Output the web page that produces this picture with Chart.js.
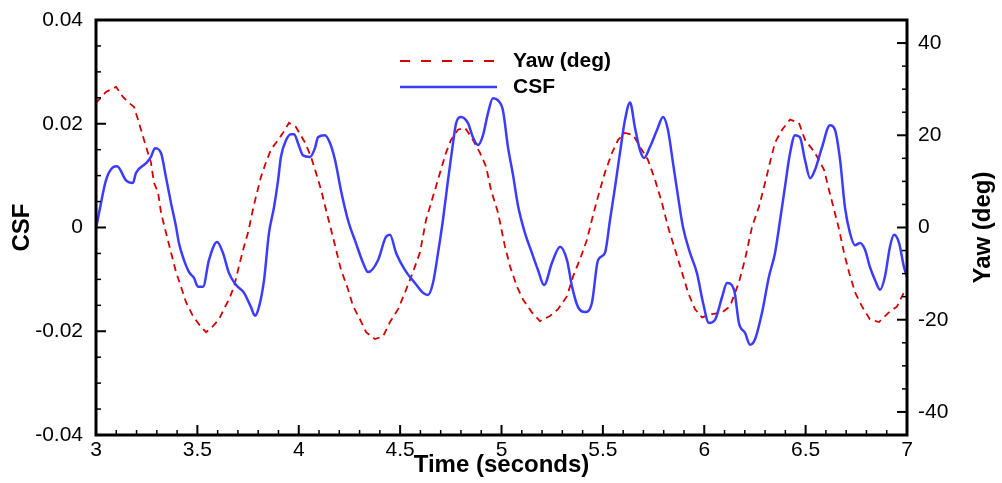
<!DOCTYPE html>
<html>
<head>
<meta charset="utf-8">
<script src="https://cdn.jsdelivr.net/npm/chart.js@4/dist/chart.umd.min.js"></script>
<style>
  html, body { margin: 0; padding: 0; background: #fff; }
  #wrap { width: 1002px; height: 483px; }
</style>
</head>
<body>
<div id="wrap"><canvas id="chart" width="1002" height="483"></canvas></div>
<script>
// CSF (left axis)
const csfTime = [3.000,3.015,3.049,3.084,3.104,3.148,3.182,3.197,3.247,3.271,
  3.291,3.321,3.345,3.370,3.395,3.409,3.434,3.459,3.483,3.503,
  3.528,3.557,3.597,3.626,3.656,3.691,3.730,3.764,3.784,3.804,
  3.829,3.853,3.878,3.898,3.912,3.937,3.962,3.977,3.996,4.021,
  4.055,4.080,4.095,4.129,4.154,4.179,4.208,4.243,4.282,4.317,
  4.342,4.391,4.430,4.450,4.480,4.524,4.573,4.613,4.637,4.662,
  4.687,4.711,4.736,4.761,4.776,4.800,4.835,4.859,4.884,4.909,
  4.933,4.958,4.983,5.007,5.032,5.057,5.081,5.116,5.150,5.180,
  5.210,5.249,5.289,5.323,5.348,5.377,5.412,5.446,5.476,5.510,
  5.535,5.560,5.584,5.609,5.634,5.658,5.683,5.703,5.732,5.767,
  5.797,5.821,5.846,5.871,5.895,5.930,5.964,5.994,6.023,6.053,
  6.088,6.112,6.147,6.171,6.201,6.226,6.250,6.285,6.319,6.349,
  6.374,6.398,6.423,6.448,6.472,6.497,6.522,6.546,6.581,6.620,
  6.645,6.670,6.694,6.719,6.744,6.768,6.793,6.817,6.842,6.867,
  6.891,6.916,6.936,6.961,6.985,7.000];
const csfVals = [-0.0002,0.0028,0.0091,0.0116,0.0118,0.0091,0.0086,0.0105,0.0124,0.0136,
  0.0153,0.0143,0.0097,0.0047,0.0001,-0.0030,-0.0063,-0.0086,-0.0097,-0.0114,
  -0.0114,-0.0063,-0.0028,-0.0049,-0.0088,-0.0111,-0.0126,-0.0153,-0.0170,-0.0153,
  -0.0101,-0.0011,0.0039,0.0091,0.0136,0.0168,0.0180,0.0180,0.0163,0.0139,
  0.0136,0.0153,0.0174,0.0178,0.0163,0.0130,0.0072,0.0014,-0.0030,-0.0068,
  -0.0086,-0.0063,-0.0018,-0.0014,-0.0049,-0.0082,-0.0107,-0.0126,-0.0130,-0.0107,
  -0.0049,0.0014,0.0091,0.0163,0.0201,0.0213,0.0201,0.0174,0.0159,0.0178,
  0.0220,0.0249,0.0245,0.0226,0.0155,0.0101,0.0043,-0.0011,-0.0049,-0.0082,
  -0.0111,-0.0068,-0.0037,-0.0063,-0.0114,-0.0153,-0.0163,-0.0145,-0.0063,-0.0049,
  0.0014,0.0078,0.0143,0.0207,0.0241,0.0193,0.0149,0.0134,0.0155,0.0188,
  0.0213,0.0188,0.0124,0.0059,0.0001,-0.0049,-0.0088,-0.0145,-0.0184,-0.0178,
  -0.0134,-0.0107,-0.0120,-0.0184,-0.0203,-0.0226,-0.0216,-0.0164,-0.0095,-0.0049,
  0.0014,0.0078,0.0143,0.0178,0.0174,0.0130,0.0095,0.0111,0.0155,0.0197,
  0.0188,0.0130,0.0039,-0.0011,-0.0034,-0.0030,-0.0043,-0.0076,-0.0101,-0.0120,
  -0.0095,-0.0037,-0.0014,-0.0030,-0.0076,-0.0095];

// Yaw in degrees (right axis)
const yawTime = [3.000,3.049,3.099,3.133,3.163,3.187,3.207,3.222,3.247,3.271,
  3.286,3.306,3.321,3.345,3.370,3.395,3.419,3.444,3.478,3.508,
  3.543,3.577,3.607,3.631,3.656,3.681,3.705,3.730,3.750,3.774,
  3.789,3.814,3.838,3.863,3.898,3.922,3.952,3.986,4.031,4.060,
  4.085,4.110,4.134,4.159,4.184,4.208,4.243,4.268,4.302,4.332,
  4.376,4.416,4.450,4.490,4.524,4.563,4.598,4.628,4.662,4.697,
  4.726,4.751,4.785,4.820,4.850,4.894,4.924,4.948,4.983,5.017,
  5.042,5.076,5.106,5.150,5.190,5.239,5.279,5.323,5.353,5.387,
  5.422,5.446,5.476,5.510,5.545,5.575,5.609,5.649,5.683,5.722,
  5.757,5.791,5.821,5.856,5.890,5.920,5.954,5.989,6.038,6.088,
  6.127,6.171,6.201,6.236,6.270,6.300,6.324,6.349,6.384,6.423,
  6.467,6.497,6.546,6.591,6.615,6.640,6.665,6.689,6.714,6.744,
  6.778,6.817,6.862,6.911,6.951,6.985,7.000];
const yawVals = [27.0,29.4,30.5,28.3,27.0,26.2,23.4,21.2,17.5,14.1,
  9.7,7.6,3.2,-1.1,-5.4,-9.7,-12.8,-16.2,-19.2,-21.0,
  -22.7,-21.4,-19.9,-17.7,-15.6,-12.8,-8.4,-4.1,-1.1,3.9,
  6.7,11.0,14.1,16.9,19.0,20.5,22.7,21.8,18.4,15.4,
  11.9,8.2,3.9,-0.4,-4.8,-9.1,-13.4,-17.1,-19.9,-22.7,
  -24.2,-23.6,-20.5,-17.7,-14.1,-9.7,-5.4,1.7,6.7,11.9,
  16.2,19.0,21.2,21.6,19.7,16.2,13.2,8.2,3.2,-4.1,
  -8.4,-12.8,-15.6,-18.4,-20.3,-19.2,-17.7,-14.9,-10.6,-6.9,
  -2.6,1.7,6.7,11.9,16.2,19.0,20.5,20.1,17.5,14.7,
  10.4,5.4,0.2,-4.8,-9.7,-14.1,-17.7,-19.5,-18.8,-18.4,
  -17.1,-11.9,-6.9,0.2,4.5,9.7,14.1,18.4,21.2,23.4,
  22.7,19.0,16.2,12.5,8.2,3.9,-0.4,-5.4,-9.7,-14.1,
  -17.1,-19.9,-20.5,-18.4,-17.1,-14.1,-13.4];

const timeTicks = [3, 3.5, 4, 4.5, 5, 5.5, 6, 6.5, 7];
const csfTicks = [-0.04, -0.02, 0, 0.02, 0.04];
const yawTicks = [-40, -20, 0, 20, 40];

const FONT = "'Liberation Sans', Arial, sans-serif";

// frame, inward tick marks (major + minor), legend and right-hand title
const decor = {
  id: 'decor',
  afterDraw(chart) {
    const { ctx, chartArea: a, scales } = chart;
    ctx.save();
    ctx.strokeStyle = '#000';

    const marks = (scale, min, step, n, isMajor, draw) => {
      for (let i = 0; i <= n; i++) {
        const v = min + i * step;
        const p = scale.getPixelForValue(v);
        const major = isMajor(i, v);
        ctx.lineWidth = major ? 2 : 1.5;
        ctx.beginPath();
        draw(p, major ? 10 : 5);
        ctx.stroke();
      }
    };
    marks(scales.x, 3, 0.1, 40, i => i % 5 === 0, (p, len) => {
      ctx.moveTo(p, a.bottom); ctx.lineTo(p, a.bottom - len);
    });
    marks(scales.y, -0.04, 0.005, 16, i => i % 4 === 0, (p, len) => {
      ctx.moveTo(a.left, p); ctx.lineTo(a.left + len, p);
    });
    marks(scales.y2, -45, 5, 18, (i, v) => v % 20 === 0, (p, len) => {
      ctx.moveTo(a.right, p); ctx.lineTo(a.right - len, p);
    });

    ctx.lineWidth = 3;
    ctx.strokeRect(a.left, a.top, a.right - a.left, a.bottom - a.top);

    // legend
    ctx.font = 'bold 21px ' + FONT;
    ctx.textBaseline = 'middle';
    ctx.textAlign = 'left';
    chart.data.datasets.forEach((ds, i) => {
      const y = 61 + i * 26;
      ctx.strokeStyle = ds.borderColor;
      ctx.lineWidth = ds.borderWidth;
      ctx.setLineDash(ds.legendDash || []);
      ctx.beginPath();
      ctx.moveTo(400, y); ctx.lineTo(497, y);
      ctx.stroke();
      ctx.setLineDash([]);
      ctx.fillStyle = '#000';
      ctx.fillText(ds.label, 513, y);
    });

    // right axis title reads bottom-to-top
    ctx.font = 'bold 24px ' + FONT;
    ctx.textAlign = 'center';
    ctx.translate(983, (a.top + a.bottom) / 2);
    ctx.rotate(-Math.PI / 2);
    ctx.fillText(scales.y2.options.title.text, 0, 0);
    ctx.restore();
  }
};

new Chart(document.getElementById('chart'), {
  type: 'line',
  data: {
    datasets: [
      {
        label: 'Yaw (deg)',
        data: yawTime.map((t, i) => ({ x: t, y: yawVals[i] })),
        yAxisID: 'y2',
        borderColor: '#d40000',
        borderWidth: 1.8,
        borderDash: [7, 5],
        legendDash: [10, 11],
        pointRadius: 0,
        tension: 0,
        order: 1
      },
      {
        label: 'CSF',
        data: csfTime.map((t, i) => ({ x: t, y: csfVals[i] })),
        yAxisID: 'y',
        borderColor: '#3c3cff',
        borderWidth: 2.5,
        pointRadius: 0,
        cubicInterpolationMode: 'monotone',
        order: 0
      }
    ]
  },
  options: {
    responsive: false,
    animation: false,
    layout: { padding: { top: 20, left: 0, right: 0, bottom: 0 } },
    plugins: { legend: { display: false }, tooltip: { enabled: false } },
    scales: {
      x: {
        type: 'linear',
        min: 3, max: 7,
        grid: { display: false },
        border: { display: false },
        afterBuildTicks: s => { s.ticks = timeTicks.map(v => ({ value: v })); },
        afterFit: s => { s.height = 48; },
        ticks: {
          color: '#000', padding: -5, maxRotation: 0, autoSkip: false,
          font: { family: FONT, size: 21 },
          callback: v => String(v)
        },
        title: {
          display: true, text: 'Time (seconds)', color: '#000',
          font: { family: FONT, size: 24, weight: 'bold' },
          padding: { top: 0, bottom: 3 }
        }
      },
      y: {
        position: 'left',
        min: -0.04, max: 0.04,
        grid: { display: false },
        border: { display: false },
        afterBuildTicks: s => { s.ticks = csfTicks.map(v => ({ value: v })); },
        afterFit: s => { s.width = 96; },
        ticks: {
          color: '#000', padding: 5,
          font: { family: FONT, size: 21 },
          callback: v => String(v)
        },
        title: {
          display: true, text: 'CSF', color: '#000',
          font: { family: FONT, size: 24, weight: 'bold' },
          padding: { top: 8, bottom: 0 }
        }
      },
      y2: {
        position: 'right',
        min: -45, max: 45,
        grid: { display: false },
        border: { display: false },
        afterBuildTicks: s => { s.ticks = yawTicks.map(v => ({ value: v })); },
        afterFit: s => { s.width = 95; },
        ticks: {
          color: '#000', padding: 3,
          font: { family: FONT, size: 21 },
          callback: v => String(v)
        },
        title: { display: false, text: 'Yaw (deg)' }
      }
    }
  },
  plugins: [decor]
});
</script>
</body>
</html>
